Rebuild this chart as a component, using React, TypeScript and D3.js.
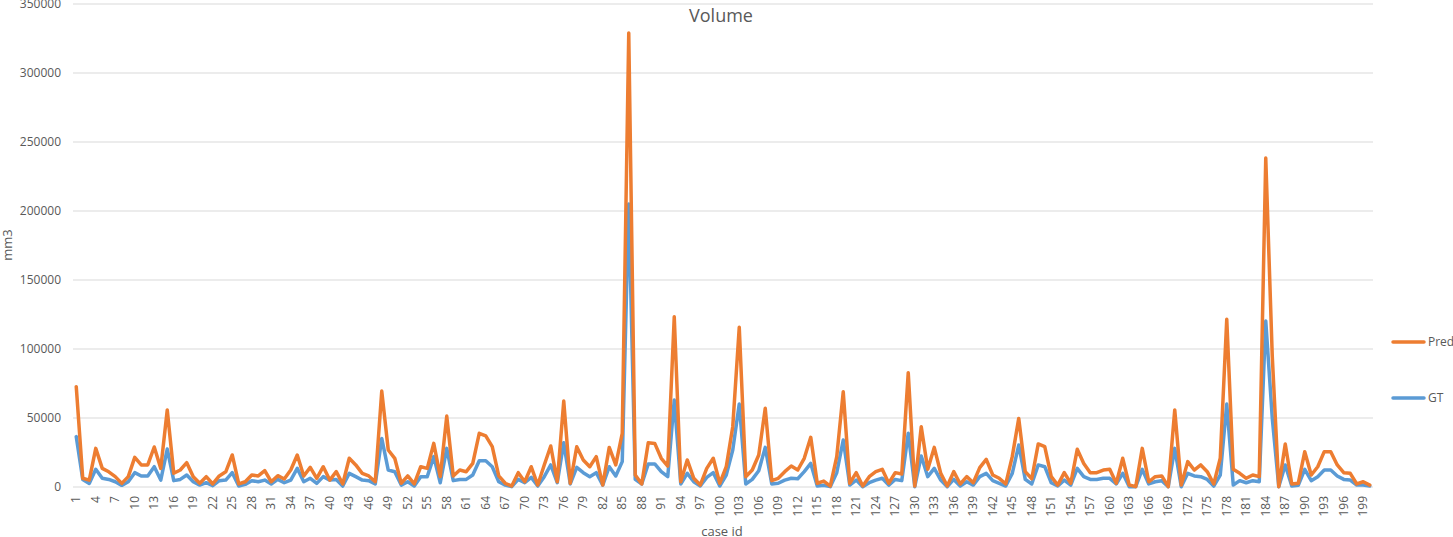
import React from "react";
import * as d3 from "d3";

const predValues: number[] = [
  72700, 6300, 5000, 28000, 13500, 11000, 7500, 2600, 7500, 21500,
  16000, 16000, 29000, 13500, 55800, 10000, 12300, 17600, 7500, 2700,
  7500, 2200, 8000, 11000, 23200, 2200, 3800, 8700, 8000, 11800,
  3800, 8200, 5800, 12300, 23200, 8000, 14200, 6300, 14700, 5000,
  11100, 2200, 20800, 16000, 9900, 8000, 3800, 69500, 26800, 20800,
  2700, 8000, 2200, 14700, 13500, 31600, 7500, 51400, 8000, 12300,
  11100, 17100, 38900, 37000, 29200, 8000, 2700, 700, 10400, 3800,
  14700, 1400, 16000, 29700, 3800, 62300, 2700, 29200, 19600, 14700,
  22000, 1400, 28700, 16000, 38900, 329000, 8700, 2200, 32100, 31600,
  20800, 15200, 123400, 3800, 19600, 6300, 1400, 13500, 20800, 2700,
  14700, 43700, 115700, 7500, 12300, 23200, 57000, 4600, 6300, 11100,
  15200, 12300, 20800, 36000, 2700, 4300, 700, 22000, 69000, 2700,
  10400, 700, 7500, 11100, 12800, 2700, 10400, 9400, 82800, 700,
  43700, 12800, 28700, 9900, 700, 11100, 2200, 7500, 3100, 14000,
  20000, 8700, 6300, 2200, 22000, 49700, 11100, 6000, 31200, 29200,
  7500, 1400, 10400, 2700, 27300, 17100, 10400, 10400, 12300, 12800,
  2700, 20800, 1400, 250, 28000, 3800, 7500, 8000, 250, 55800,
  1400, 18400, 12300, 16000, 11100, 2200, 20800, 121500, 12800, 9900,
  6300, 8700, 7500, 238400, 95000, 250, 31200, 2200, 2700, 25600,
  8700, 14700, 25600, 25600, 16000, 10400, 9900, 2200, 3800, 1400,
];

const gtValues: number[] = [
  36500, 5500, 2600, 12800, 6300, 5500, 3800, 1200, 3800, 10400,
  8000, 8000, 14700, 5000, 27500, 4600, 5500, 8700, 3800, 1400,
  3100, 1000, 4600, 5000, 10400, 700, 1900, 4600, 3800, 5000,
  2200, 5500, 3100, 5000, 13500, 3800, 6300, 2600, 7500, 5000,
  5500, 700, 9900, 7500, 5000, 4600, 2200, 35200, 12300, 11100,
  1400, 3800, 700, 7500, 7500, 22000, 3100, 28000, 4600, 5500,
  5500, 8700, 19000, 19000, 14700, 3800, 1400, 250, 5500, 3100,
  7000, 700, 7500, 16000, 3100, 32100, 2200, 14200, 10400, 7500,
  10400, 1400, 14700, 8000, 18400, 205000, 5500, 2200, 16700, 16700,
  11100, 7500, 63000, 2200, 9900, 3800, 700, 7000, 10400, 700,
  8700, 26800, 60100, 2200, 5500, 11800, 28700, 2200, 2700, 5000,
  6300, 6000, 11100, 17100, 700, 1200, 250, 10400, 34000, 1400,
  5000, 250, 3100, 5000, 6300, 1400, 5500, 4600, 38900, 250,
  22500, 7500, 13500, 5000, 250, 5500, 700, 3800, 1400, 7500,
  9900, 4600, 2700, 700, 9900, 30400, 5500, 2200, 16000, 14700,
  3100, 700, 5000, 1400, 13500, 7500, 5500, 5500, 6300, 6300,
  2200, 9900, 250, 250, 12800, 2200, 3800, 4600, 250, 28000,
  250, 9900, 8000, 7500, 5500, 700, 8700, 60100, 1400, 4600,
  3100, 4600, 3800, 120300, 50000, 250, 16000, 700, 1200, 12800,
  4600, 7500, 12300, 12300, 8000, 5500, 5000, 1400, 1400, 700,
];

const caseIds: number[] = predValues.map((_, i) => i + 1);
const yTicks: number[] = [0, 50000, 100000, 150000, 200000, 250000, 300000, 350000];
const seriesNames = ["Pred", "GT"];

const W = 1453;
const H = 537;
const FONT = "'Open Sans', 'Liberation Sans', sans-serif";
const TXT = "#595959";
const PRED_COLOR = "#ED7D31";
const GT_COLOR = "#5B9BD5";

export default function App() {
  const left = 73;
  const right = 1373;
  const x = d3.scaleBand<number>().domain(caseIds).range([left, right]);
  const cx = (id: number) => (x(id) as number) + x.bandwidth() / 2;
  const y = d3.scaleLinear().domain([0, 350000]).range([487, 4]);

  const line = d3
    .line<number>()
    .x((_, i) => cx(caseIds[i]))
    .y((d) => y(d));

  const xTickIds = caseIds.filter((id) => (id - 1) % 3 === 0);

  return (
    <svg
      width={W}
      height={H}
      style={{ position: "absolute", left: 0, top: 0, background: "#fff" }}
      fontFamily={FONT}
    >
      <rect x={0} y={0} width={W} height={H} fill="#fff" />
      {yTicks.map((t) => (
        <g key={t}>
          <line x1={left} x2={right} y1={y(t)} y2={y(t)} stroke="#d9d9d9" strokeWidth={1} />
          <text x={61} y={y(t)} dy="0.35em" textAnchor="end" fontSize={12} fill={TXT}>
            {t}
          </text>
        </g>
      ))}
      {xTickIds.map((id) => (
        <text
          key={id}
          transform={`translate(${cx(id)},496) rotate(-90)`}
          textAnchor="end"
          dy="0.35em"
          fontSize={12}
          fill={TXT}
        >
          {id}
        </text>
      ))}
      <path d={line(gtValues) || ""} fill="none" stroke={GT_COLOR} strokeWidth={3.5} strokeLinejoin="round" strokeLinecap="round" />
      <path d={line(predValues) || ""} fill="none" stroke={PRED_COLOR} strokeWidth={3.5} strokeLinejoin="round" strokeLinecap="round" />
      <text x={721} y={22} textAnchor="middle" fontSize={18} fill={TXT}>
        Volume
      </text>
      <text transform="translate(12,245) rotate(-90)" textAnchor="middle" fontSize={13} fill={TXT}>
        mm3
      </text>
      <text x={722} y={536} textAnchor="middle" fontSize={13} fill={TXT}>
        case id
      </text>
      {seriesNames.map((name, i) => {
        const ly = i === 0 ? 342 : 398;
        const color = i === 0 ? PRED_COLOR : GT_COLOR;
        return (
          <g key={name}>
            <line x1={1393} x2={1424} y1={ly} y2={ly} stroke={color} strokeWidth={3.5} strokeLinecap="round" />
            <text x={1428} y={ly} dy="0.35em" fontSize={12} fill={TXT}>
              {name}
            </text>
          </g>
        );
      })}
    </svg>
  );
}
